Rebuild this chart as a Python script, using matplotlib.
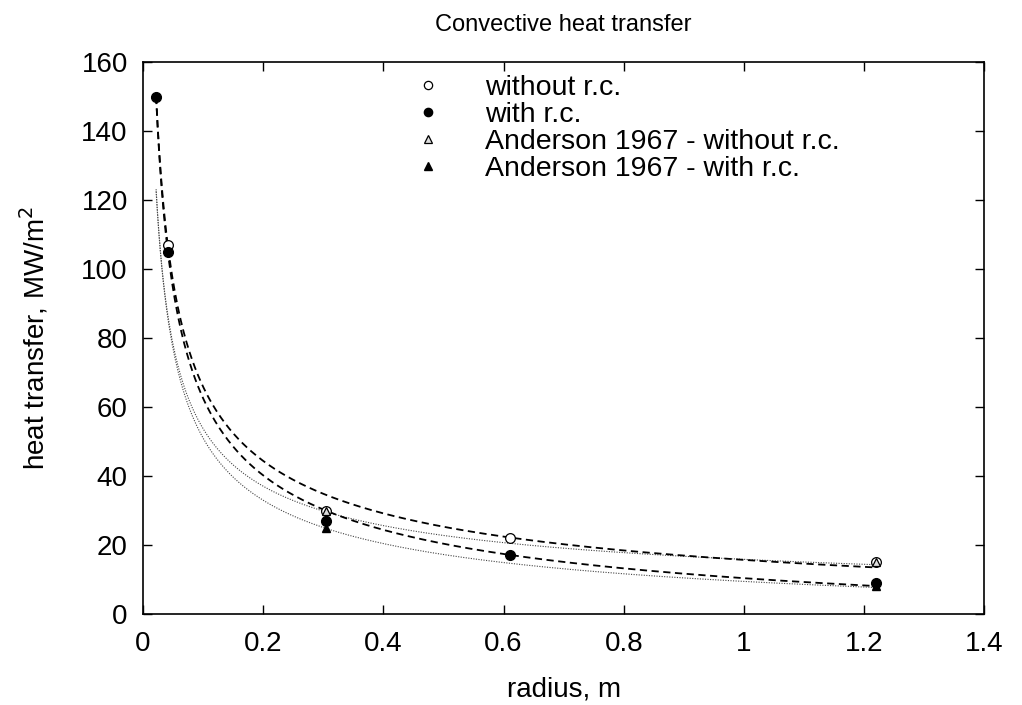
import numpy as np
import matplotlib.pyplot as plt

plt.rcParams['font.family'] = ['Liberation Sans', 'DejaVu Sans']

# data points (radius in m, heat transfer in MW/m^2)
r_sin = [0.042, 0.305, 0.61, 1.22]
q_sin = [107, 30, 22, 15]
r_con = [0.0217, 0.042, 0.305, 0.61, 1.22]
q_con = [150, 105, 27, 17, 9]
r_and_sin = [0.305, 1.22]
q_and_sin = [30, 15]
r_and_con = [0.305, 1.22]
q_and_con = [25, 8]

# fitted curves q = a * r**b + c, coefficients
fit_sin = (23.2, -0.5, -7.5)
fit_con = (24.1, -0.5, -13.7)
fit_and_sin = (15.1, -0.545, 0.75)
fit_and_con = (17.96, -0.52, -8.5)
r_min, r_max = 0.0217, 1.22


def curva(coef, r):
    a, b, c = coef
    return a * r**b + c


fig = plt.figure(figsize=(10.22, 7.05), dpi=100)
ax = fig.add_axes([0.140, 0.129, 0.823, 0.783])

r = np.linspace(r_min, r_max, 500)
ax.plot(r, curva(fit_sin, r), color='black', lw=1.3, dashes=(4, 2.5), zorder=2)
ax.plot(r, curva(fit_con, r), color='black', lw=1.3, dashes=(4, 2.5), zorder=2)
ax.plot(r, curva(fit_and_sin, r), color='#444444', lw=0.8, dashes=(1, 1.3), zorder=1)
ax.plot(r, curva(fit_and_con, r), color='#444444', lw=0.8, dashes=(1, 1.3), zorder=1)

ax.plot(r_sin, q_sin, 'o', ls='none', ms=7, mfc='white', mec='black', mew=0.9,
        label='without r.c.', zorder=3)
ax.plot(r_con, q_con, 'o', ls='none', ms=7, mfc='black', mec='black',
        label='with r.c.', zorder=4)
ax.plot(r_and_sin, q_and_sin, '^', ls='none', ms=6, mfc='#dddddd', mec='black', mew=0.9,
        label='Anderson 1967 - without r.c.', zorder=3)
ax.plot(r_and_con, q_and_con, '^', ls='none', ms=6, mfc='black', mec='black',
        label='Anderson 1967 - with r.c.', zorder=3)

ax.set_xlim(0, 1.4)
ax.set_ylim(0, 160)
ax.set_xticks(np.arange(0, 1.41, 0.2))
ax.set_xticklabels(['0', '0.2', '0.4', '0.6', '0.8', '1', '1.2', '1.4'])
ax.set_yticks(np.arange(0, 161, 20))
ax.tick_params(direction='in', length=6.5, width=1, top=True, right=True,
               labelsize=20)
ax.tick_params(axis='x', pad=12)
ax.tick_params(axis='y', pad=11)
for s in ax.spines.values():
    s.set_linewidth(1.2)

ax.set_title('Convective heat transfer', fontsize=17, pad=22)
ax.set_xlabel('radius, m', fontsize=20, labelpad=14)
ax.set_ylabel('heat transfer, MW/m$^2$', fontsize=20, labelpad=22)

ax.legend(loc='upper left', bbox_to_anchor=(0.322, 0.976), frameon=False,
          fontsize=20.5, handlelength=1, handletextpad=1.5, labelspacing=0.03,
          borderpad=0, borderaxespad=0, numpoints=1, markerscale=0.85)

fig.savefig('out.png', dpi=100)
